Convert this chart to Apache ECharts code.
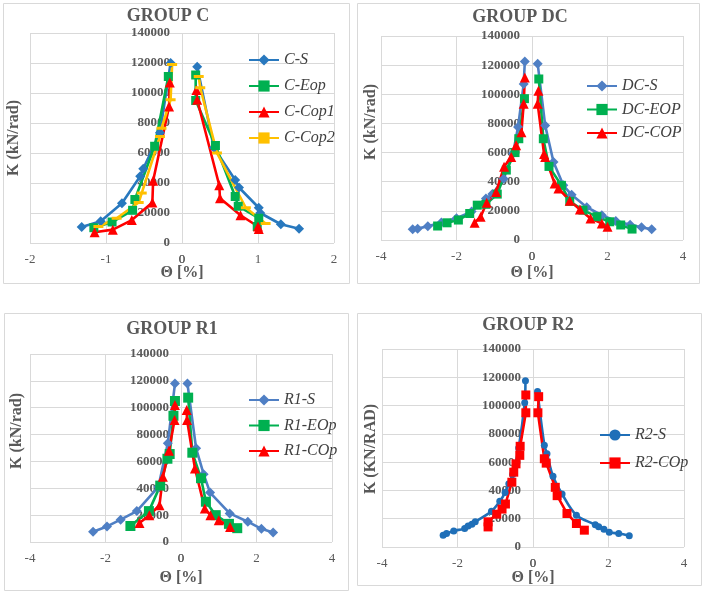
<!DOCTYPE html>
<html>
<head>
<meta charset="utf-8">
<script src="https://cdn.jsdelivr.net/npm/echarts@6/dist/echarts.min.js"></script>
<style>html,body{margin:0;padding:0;background:#fff;}#c{width:706px;height:593px;}</style>
</head>
<body>
<div id="c"></div>
<script>
// ---- Data (theta [%], K [kN/rad]); null separates negative / positive branches ----
const C_S    = [[-1.32,10700],[-1.07,14500],[-0.79,26500],[-0.55,44500],[-0.51,49500],[-0.29,73500],[-0.15,120000], null,
                [0.20,117500],[0.42,63500],[0.70,42000],[0.75,37000],[1.01,23500],[1.03,20000],[1.30,12500],[1.54,9500]];
const C_Eop  = [[-1.16,10200],[-0.92,14000],[-0.65,21800],[-0.62,29000],[-0.36,64500],[-0.18,111000], null,
                [0.18,112000],[0.18,95000],[0.44,65000],[0.70,31000],[0.74,24500],[1.01,16500],[0.99,11000]];
const C_Cop1 = [[-1.15,7200],[-0.91,8900],[-0.66,15300],[-0.39,27000],[-0.38,41500],[-0.17,91000],[-0.16,107000], null,
                [0.19,102000],[0.20,95500],[0.49,38500],[0.50,29800],[0.77,18500],[1.00,11000],[1.01,9300]];
const C_Cop2 = [[-1.10,11000],[-0.86,16500],[-0.57,27000],[-0.53,33300],[-0.29,71000],[-0.27,76500],[-0.15,95500],[-0.13,119000], null,
                [0.22,111000],[0.24,103500],[0.46,60000],[0.84,23500],[1.10,13000]];

const DC_S   = [[-3.16,7300],[-3.03,7800],[-2.76,9500],[-2.40,12000],[-2.00,15000],[-1.60,19500],[-1.22,28500],[-1.05,31500],[-0.75,42000],[-0.50,59500],[-0.37,77500],[-0.22,107000],[-0.19,122500], null,
                [0.15,121000],[0.35,78500],[0.57,53500],[0.83,37500],[1.05,31000],[1.45,22500],[1.85,17000],[2.22,13000],[2.60,10500],[2.90,8800],[3.17,7300]];
const DC_EOP = [[-2.50,9600],[-2.25,11800],[-1.95,13700],[-1.65,18200],[-1.45,23900],[-1.22,24500],[-0.92,31500],[-0.68,48000],[-0.45,60000],[-0.35,69500],[-0.20,97000], null,
                [0.18,110500],[0.30,69500],[0.45,50500],[0.78,37500],[1.00,26500],[1.35,20500],[1.72,16000],[2.06,12500],[2.35,10300],[2.65,7500]];
const DC_COP = [[-1.52,11900],[-1.36,16000],[-1.20,25600],[-0.95,33000],[-0.74,50200],[-0.55,57000],[-0.42,65000],[-0.28,74000],[-0.22,93500],[-0.19,111500], null,
                [0.17,102500],[0.15,93500],[0.32,59000],[0.35,57000],[0.60,38800],[0.70,35400],[1.00,27000],[1.27,21000],[1.55,14800],[1.85,11400],[2.00,9100]];

const R1_S   = [[-2.33,7700],[-1.96,11600],[-1.60,16600],[-1.17,23000],[-0.60,41000],[-0.35,73500],[-0.16,118000], null,
                [0.17,118000],[0.40,69800],[0.60,50500],[0.77,36800],[1.29,21300],[1.77,15100],[2.13,9800],[2.44,7000]];
const R1_EOp = [[-1.34,11900],[-0.85,23000],[-0.55,42000],[-0.36,62000],[-0.30,65500],[-0.20,94000],[-0.16,105000], null,
                [0.19,107500],[0.30,66500],[0.53,47500],[0.66,30000],[0.92,20000],[1.27,13500],[1.49,10300]];
const R1_COp = [[-1.10,14200],[-0.84,19900],[-0.57,27400],[-0.48,48500],[-0.32,67900],[-0.17,90800],[-0.16,102000], null,
                [0.15,98300],[0.16,90800],[0.37,54700],[0.63,24900],[0.78,19900],[1.00,16200],[1.30,11200]];

const R2_S   = [[-2.38,8300],[-2.29,9500],[-2.10,11400],[-1.81,13000],[-1.72,14800],[-1.62,16100],[-1.53,17800],[-1.10,25300],[-0.88,32300],[-0.74,38500],[-0.64,44800],[-0.54,51300],[-0.38,70000],[-0.22,102000],[-0.20,117500], null,
                [0.12,110000],[0.30,72000],[0.37,66000],[0.53,50000],[0.77,37500],[1.15,22500],[1.65,15800],[1.74,14400],[1.88,12500],[2.02,10500],[2.27,9500],[2.55,8000]];
const R2_COp = [[-1.19,14200],[-1.19,17800],[-0.96,23200],[-0.82,26800],[-0.73,30400],[-0.56,45800],[-0.51,52900],[-0.45,58800],[-0.35,64800],[-0.34,71200],[-0.19,94900],[-0.19,107500], null,
                [0.15,106300],[0.13,94900],[0.30,62400],[0.35,59300],[0.59,42200],[0.64,36300],[0.90,23700],[1.15,16600],[1.36,11900]];

const titles  = ['GROUP C', 'GROUP DC', 'GROUP R1', 'GROUP R2'];
const yNames  = ['K (kN/rad)', 'K (kN/rad)', 'K (kN/rad)', 'K (KN/RAD)'];
const xName   = 'Θ [%]';
const xRanges = [[-2, 2, 1], [-4, 4, 2], [-4, 4, 2], [-4, 4, 2]];
const yRange  = [0, 140000, 20000];

// ---- Styling / layout ----
const FONT = '"Liberation Serif","Times New Roman",serif';
const GRAY = '#595959';
const grids = [
  {left: 30,  top: 33,  width: 304, height: 210},
  {left: 381, top: 36,  width: 302, height: 204},
  {left: 30,  top: 354, width: 302, height: 188},
  {left: 382, top: 349, width: 302, height: 198}
].map(g => Object.assign(g, {containLabel: false, outerBoundsMode: 'none'}));
const xNamePos = [[182,273],[532,273],[181,578],[533,578]];
const panels = [[3,3,346,280],[357,3,342,280],[4,313,344,277],[357,313,344,272]];
const titlePos = [[168,16],[520,17],[172,329],[528,325]];
const yNamePos = [[14,138],[371,122],[17,431],[371,449]];
const X_LABEL_MARGIN = 10;

const seriesDefs = [
  {name:'C-S',    data:C_S,    grid:0, color:'#2878BE', symbol:'diamond',  size:10},
  {name:'C-Eop',  data:C_Eop,  grid:0, color:'#00B050', symbol:'rect',     size:9},
  {name:'C-Cop1', data:C_Cop1, grid:0, color:'#FF0000', symbol:'triangle', size:10},
  {name:'C-Cop2', data:C_Cop2, grid:0, color:'#FFC000', symbol:'rect',     size:[10,3]},
  {name:'DC-S',   data:DC_S,   grid:1, color:'#4F7FC4', symbol:'diamond',  size:10},
  {name:'DC-EOP', data:DC_EOP, grid:1, color:'#00B050', symbol:'rect',     size:9},
  {name:'DC-COP', data:DC_COP, grid:1, color:'#FF0000', symbol:'triangle', size:10},
  {name:'R1-S',   data:R1_S,   grid:2, color:'#4F7FC4', symbol:'diamond',  size:10},
  {name:'R1-EOp', data:R1_EOp, grid:2, color:'#00B050', symbol:'rect',     size:10},
  {name:'R1-COp', data:R1_COp, grid:2, color:'#FF0000', symbol:'triangle', size:10},
  {name:'R2-S',   data:R2_S,   grid:3, color:'#1F6FB8', symbol:'circle',   size:7, smooth:true},
  {name:'R2-COp', data:R2_COp, grid:3, color:'#FF0000', symbol:'rect',     size:9}
];
const legends = [
  {names:['C-S','C-Eop','C-Cop1','C-Cop2'], left:248, top:52, gap:10},
  {names:['DC-S','DC-EOP','DC-COP'],       left:586, top:78, gap:7.5},
  {names:['R1-S','R1-EOp','R1-COp'],       left:248, top:392, gap:9.5},
  {names:['R2-S','R2-COp'],                 left:599, top:427, gap:12}
];

function splitBranches(arr) {
  const out = []; let cur = [];
  arr.forEach(p => { if (p === null) { if (cur.length) out.push(cur); cur = []; } else cur.push(p); });
  if (cur.length) out.push(cur);
  return out;
}

const series = [];
seriesDefs.forEach(d => {
  splitBranches(d.data).forEach(branch => {
    series.push({
      type: 'line', name: d.name, xAxisIndex: d.grid, yAxisIndex: d.grid,
      data: branch, symbol: d.symbol, symbolSize: d.size, smooth: d.smooth ? 0.35 : false,
      showAllSymbol: true, animation: false,
      lineStyle: {color: d.color, width: 2.6},
      itemStyle: {color: d.color}
    });
  });
});

const xAxes = grids.map((g, i) => ({
  type: 'value', gridIndex: i, min: xRanges[i][0], max: xRanges[i][1], interval: xRanges[i][2],
  axisLine: {show: false, onZero: false}, axisTick: {show: false},
  axisLabel: {fontFamily: FONT, fontSize: 13, lineHeight: 13, color: GRAY, margin: X_LABEL_MARGIN, hideOverlap: false,
              showMinLabel: true, showMaxLabel: true},
  splitLine: {lineStyle: {color: '#D9D9D9', width: 1}}
}));
// y axis drawn through theta = 0: shift it right by the distance from grid left to x = 0
const yAxes = grids.map((g, i) => {
  const r = xRanges[i];
  const zeroShift = g.width * (0 - r[0]) / (r[1] - r[0]);
  return {
    type: 'value', gridIndex: i, min: yRange[0], max: yRange[1], interval: yRange[2],
    position: 'left', offset: -zeroShift,
    axisLine: {show: false, onZero: false},
    axisTick: {show: false},
    axisLabel: {fontFamily: FONT, fontSize: 13, lineHeight: 13, fontWeight: 'bold', color: GRAY, margin: 12,
                hideOverlap: false, formatter: v => String(v)},
    splitLine: {lineStyle: {color: '#D9D9D9', width: 1}}
  };
});

const graphic = [];
panels.forEach(p => graphic.push({type: 'rect', shape: {x: p[0] + 0.5, y: p[1] + 0.5, width: p[2], height: p[3]},
  style: {fill: 'none', stroke: '#D9D9D9', lineWidth: 1}, z: -10, silent: true}));
titles.forEach((t, i) => graphic.push({type: 'text', x: titlePos[i][0], y: titlePos[i][1], silent: true,
  style: {text: t, font: 'bold 18px ' + FONT, fill: GRAY, align: 'center', verticalAlign: 'middle',
          textAlign: 'center', textVerticalAlign: 'middle'}}));
yNames.forEach((t, i) => graphic.push({type: 'text', x: yNamePos[i][0], y: yNamePos[i][1], rotation: Math.PI / 2, silent: true,
  style: {text: t, font: 'bold 16px ' + FONT, fill: GRAY, align: 'center', verticalAlign: 'middle',
          textAlign: 'center', textVerticalAlign: 'middle'}}));
xNamePos.forEach(p => graphic.push({type: 'text', x: p[0], y: p[1], silent: true,
  style: {text: xName, font: 'bold 16px ' + FONT, fill: GRAY, align: 'center', verticalAlign: 'middle',
          textAlign: 'center', textVerticalAlign: 'middle'}}));

const legend = legends.map(l => ({
  data: l.names, orient: 'vertical', left: l.left, top: l.top, itemGap: l.gap, padding: 0,
  itemWidth: 30, itemHeight: 14, selectedMode: false,
  textStyle: {fontFamily: FONT, fontStyle: 'italic', fontSize: 16, color: '#404040', lineHeight: 16}
}));

const chart = echarts.init(document.getElementById('c'), null, {renderer: 'canvas'});
chart.setOption({
  animation: false,
  grid: grids,
  xAxis: xAxes,
  yAxis: yAxes,
  legend: legend,
  series: series,
  graphic: graphic
});

// The theta = 0 tick label of each x axis is suppressed by the library where the
// shifted y axis crosses; place it at the axis' own pixel position for 0.
const zeroLabels = grids.map((g, i) => {
  const p = chart.convertToPixel({gridIndex: i}, [0, yRange[0]]);
  return {type: 'text', x: p[0], y: p[1] + X_LABEL_MARGIN, silent: true,
    style: {text: '0', font: '13px ' + FONT, fill: GRAY, align: 'center', verticalAlign: 'top',
            textAlign: 'center', textVerticalAlign: 'top'}};
});
chart.setOption({graphic: graphic.concat(zeroLabels)});
</script>
</body>
</html>
